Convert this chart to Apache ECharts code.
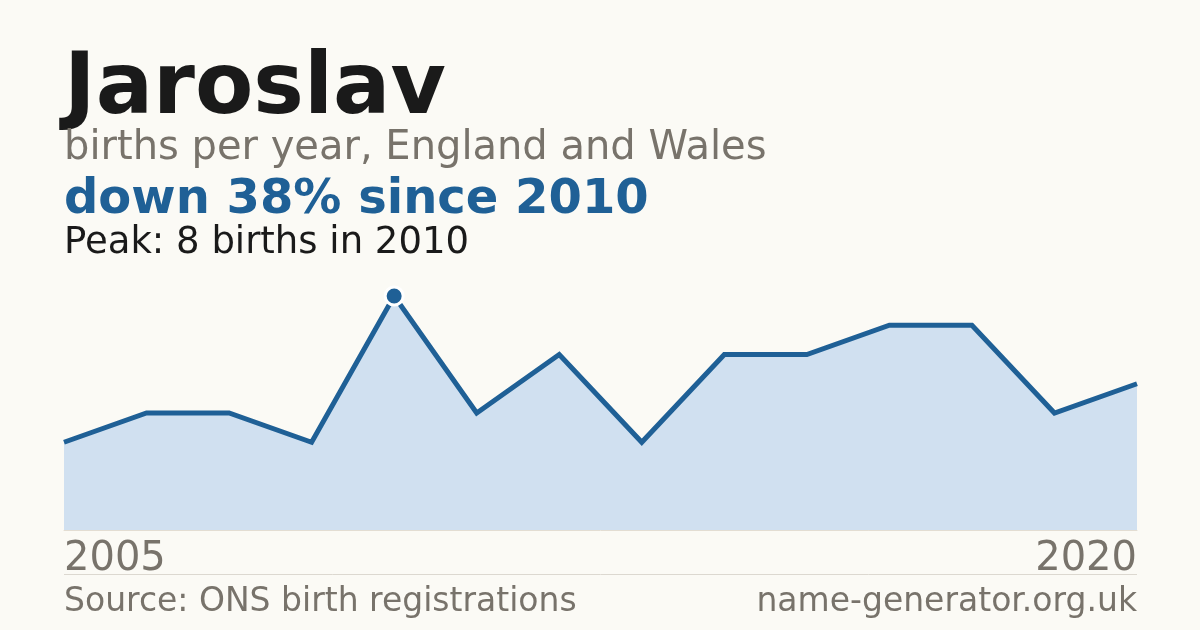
<!DOCTYPE html>
<html>
<head>
<meta charset="utf-8">
<script src="https://cdn.jsdelivr.net/npm/echarts@6/dist/echarts.min.js"></script>
<style>
  html, body { margin: 0; padding: 0; background: #fbfaf5; }
  #main { width: 1200px; height: 630px; }
</style>
</head>
<body>
<div id="main"></div>
<script>
// years shown on the chart (only first and last get a label)
const years = ['2005', '2007', '2008', '2009', '2010', '2011', '2012', '2013', '2014', '2015', '2016', '2017', '2019', '2020'];
// births per year
const births = [3, 4, 4, 3, 8, 4, 6, 3, 6, 6, 7, 7, 4, 5];
const peakYear = '2010';

const blue = '#1f6096';
const grey = '#78736b';
const font = '"DejaVu Sans", sans-serif';

const myChart = echarts.init(document.getElementById('main'));

const seriesData = births.map((v, i) => {
  if (years[i] === peakYear) {
    return {
      value: v,
      symbol: 'circle',
      symbolSize: 18,
      itemStyle: { color: blue, borderColor: '#ffffff', borderWidth: 3 }
    };
  }
  return v;
});

const option = {
  backgroundColor: '#fbfaf5',
  animation: false,
  grid: { left: 64, right: 63, top: 296, bottom: 100 },
  xAxis: {
    type: 'category',
    data: years,
    boundaryGap: false,
    axisLine: { show: true, lineStyle: { color: '#e3ddd2', width: 1 } },
    axisTick: { show: false },
    axisLabel: {
      interval: (i) => i === 0 || i === years.length - 1,
      alignMinLabel: 'left',
      alignMaxLabel: 'right',
      color: grey,
      fontFamily: font,
      fontSize: 40,
      margin: 10
    }
  },
  yAxis: {
    type: 'value',
    min: 0,
    max: 8,
    show: false
  },
  series: [
    {
      type: 'line',
      data: seriesData,
      symbol: 'none',
      lineStyle: { color: blue, width: 5, join: 'miter' },
      areaStyle: { color: '#d0e0f0', opacity: 1 },
      z: 2
    }
  ],
  graphic: [
    {
      type: 'text', left: 64, top: 48,
      style: { text: 'Jaroslav', font: 'bold 85px ' + font, fill: '#1a1a1a' }
    },
    {
      type: 'text', left: 64, top: 129,
      style: { text: 'births per year, England and Wales', font: '40px ' + font, fill: grey }
    },
    {
      type: 'text', left: 64, top: 177,
      style: { text: 'down 38% since 2010', font: 'bold 48px ' + font, fill: blue }
    },
    {
      type: 'text', left: 64, top: 225,
      style: { text: 'Peak: 8 births in 2010', font: '37px ' + font, fill: '#1a1a1a' }
    },
    {
      type: 'line',
      shape: { x1: 64, y1: 574.5, x2: 1137, y2: 574.5 },
      style: { stroke: '#dcd8d0', lineWidth: 1 }
    },
    {
      type: 'text', left: 64, top: 586,
      style: { text: 'Source: ONS birth registrations', font: '33px ' + font, fill: grey }
    },
    {
      type: 'text', right: 63, top: 586,
      style: { text: 'name-generator.org.uk', font: '33px ' + font, fill: grey }
    }
  ]
};

option && myChart.setOption(option);
</script>
</body>
</html>
